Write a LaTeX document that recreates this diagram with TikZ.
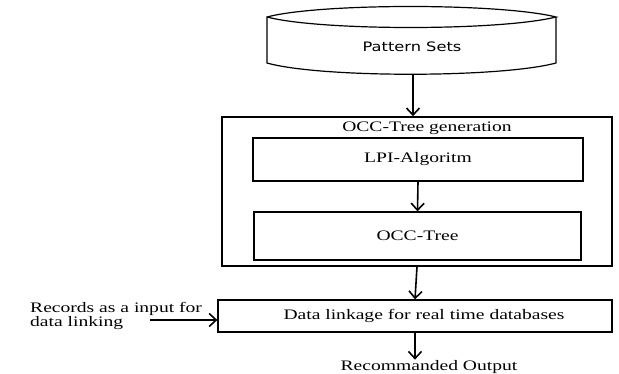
\documentclass[tikz,border=0pt]{standalone}
\usepackage{fontspec}
\setmainfont{Liberation Serif}[FakeStretch=1.35]
\newfontfamily\patfont{DejaVu Sans}[FakeStretch=1.25]
\usetikzlibrary{arrows.meta, positioning}

\begin{document}
\begin{tikzpicture}[x=1pt,y=-1pt,
    box/.style={draw,line width=1.3pt,inner sep=0pt},
    flow/.style={-{Straight Barb[length=7pt,width=13pt,line width=1.6pt]},line width=1.6pt},
    every node/.style={font=\fontsize{14.5}{13}\selectfont}]
  \useasboundingbox (0,0) rectangle (619,374);
  % pattern sets store
  \draw[line width=1.2pt] (267,17) .. controls (320,3) and (500,3) .. (556,17)
    .. controls (500,31) and (320,31) .. (267,17) -- (267,63)
    .. controls (320,78) and (500,78) .. (556,63) -- (556,17);
  \node (pat) at (412,47) {\patfont\fontsize{13}{13}\selectfont Pattern Sets};
  \coordinate (pat-bot) at (413,75);
  % boxes
  \node[box,line width=1.6pt,minimum width=390pt,minimum height=149pt] (gen) at (417,191.5) {};
  \node (genlbl) at (427,128) {OCC-Tree generation};
  \node[box,minimum width=330pt,minimum height=43pt] (lpi) at (418,159.5) {LPI-Algoritm};
  \node[box,minimum width=327pt,minimum height=48pt] (occ) at (417.5,236) {OCC-Tree};
  \node[box,minimum width=394pt,minimum height=32pt] (link) at (415,316) {\hspace{18pt}Data linkage for real time databases};
  \node[below=27pt of link.south,anchor=north,inner sep=1pt,xshift=14pt] (out) {Recommanded Output};
  \node[anchor=west,align=left,inner sep=0pt] (rec) at (30,316)
    {Records as a input for\\data linking};
  \coordinate (rec-end) at (150,320);
  % arrows
  \draw[flow] (pat-bot) -- (pat-bot |- gen.north);
  \draw[flow] (lpi.south) -- (occ.north);
  \draw[flow] (gen.south) -- (link.north);
  \draw[flow] (link.south) -- (link.south |- out.north);
  \draw[flow] (rec-end) -- (rec-end -| link.west);
\end{tikzpicture}
\end{document}
